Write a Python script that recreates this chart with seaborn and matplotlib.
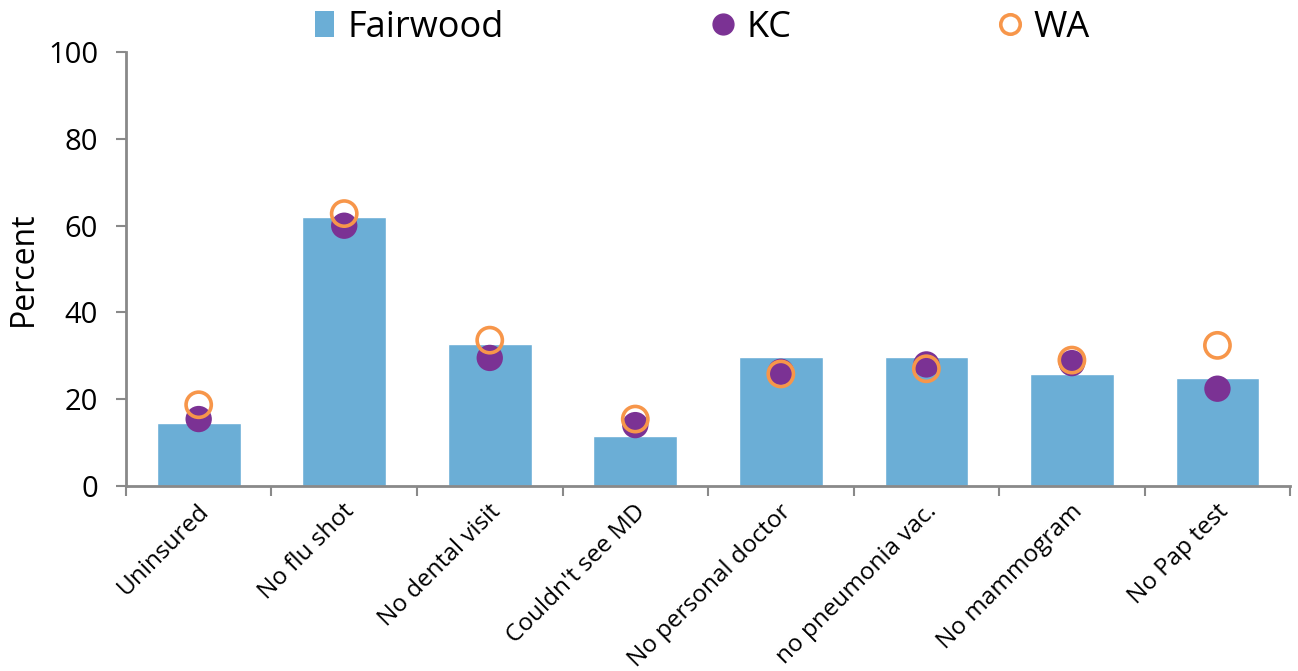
import pandas as pd
import numpy as np
import matplotlib
matplotlib.use("Agg")
import matplotlib.pyplot as plt
import seaborn as sns
from matplotlib.lines import Line2D
from matplotlib.patches import Patch

# values
categories = ["Uninsured", "No flu shot", "No dental visit", "Couldn't see MD",
              "No personal doctor", "no pneumonia vac.", "No mammogram", "No Pap test"]
fairwood = [14.4, 62.0, 32.7, 11.5, 29.8, 29.8, 25.7, 24.8]
kc = [15.4, 60.0, 29.5, 14.0, 26.3, 28.0, 28.3, 22.4]
wa = [18.7, 62.8, 33.6, 15.4, 25.8, 27.0, 29.0, 32.4]

df = pd.DataFrame({"category": categories, "Fairwood": fairwood, "KC": kc, "WA": wa})

sns.set_style("white")
plt.rcParams["font.family"] = ["Open Sans", "DejaVu Sans"]
plt.rcParams["text.color"] = "black"

BAR = "#6baed6"
PURPLE = "#7b3294"
ORANGE = "#f7964a"
AXIS = "#898989"

fig, ax = plt.subplots(figsize=(12.98, 6.71), dpi=100)
fig.subplots_adjust(left=0.097, right=0.994, top=0.922, bottom=0.276)

sns.barplot(data=df, x="category", y="Fairwood", color=BAR, width=0.575,
            saturation=1, ax=ax, zorder=1)
sns.scatterplot(data=df, x="category", y="KC", color=PURPLE, s=360,
                edgecolor="none", ax=ax, zorder=3)
sns.scatterplot(data=df, x="category", y="WA", s=330, facecolor="none",
                edgecolor=ORANGE, linewidth=2.6, ax=ax, zorder=4)

ax.set_xlim(-0.5, len(categories) - 0.5)
ax.set_ylim(0, 100)
ax.set_yticks(range(0, 101, 20))
ax.set_xlabel("")
ax.set_ylabel("Percent", fontsize=23, labelpad=6, color="black")
ax.tick_params(axis="y", labelsize=21, labelcolor="black", length=7, width=1.5,
               color=AXIS, left=True, pad=13)

# Excel-style tick marks between the categories
ax.set_xticks(np.arange(len(categories)))
ax.set_xticklabels([])
ax.tick_params(axis="x", length=0)
ax.set_xticks(np.arange(-0.5, len(categories)), minor=True)
ax.tick_params(axis="x", which="minor", length=7, width=1.5, color=AXIS, bottom=True)
for i, lab in enumerate(categories):
    ax.text(i - 0.01, -3.2, lab, rotation=45, ha="right", va="top",
            rotation_mode="anchor", fontsize=17.5, color="black")

sns.despine(ax=ax)
for side in ["left", "bottom"]:
    ax.spines[side].set_color(AXIS)
    ax.spines[side].set_linewidth(2)

handles = [
    Patch(facecolor=BAR, edgecolor="none"),
    Line2D([], [], marker="o", linestyle="none", markersize=15,
           markerfacecolor=PURPLE, markeredgecolor=PURPLE),
    Line2D([], [], marker="o", linestyle="none", markersize=14,
           markerfacecolor="none", markeredgecolor=ORANGE, markeredgewidth=2.6),
]
fig.legend(handles, ["Fairwood", "KC", "WA"], loc="center left",
           bbox_to_anchor=(0.2173, 0.959), ncol=3, frameon=False, fontsize=26,
           handlelength=0.55, handleheight=0.75, handletextpad=0.36, columnspacing=5.8)

fig.savefig("out.png", dpi=100)
